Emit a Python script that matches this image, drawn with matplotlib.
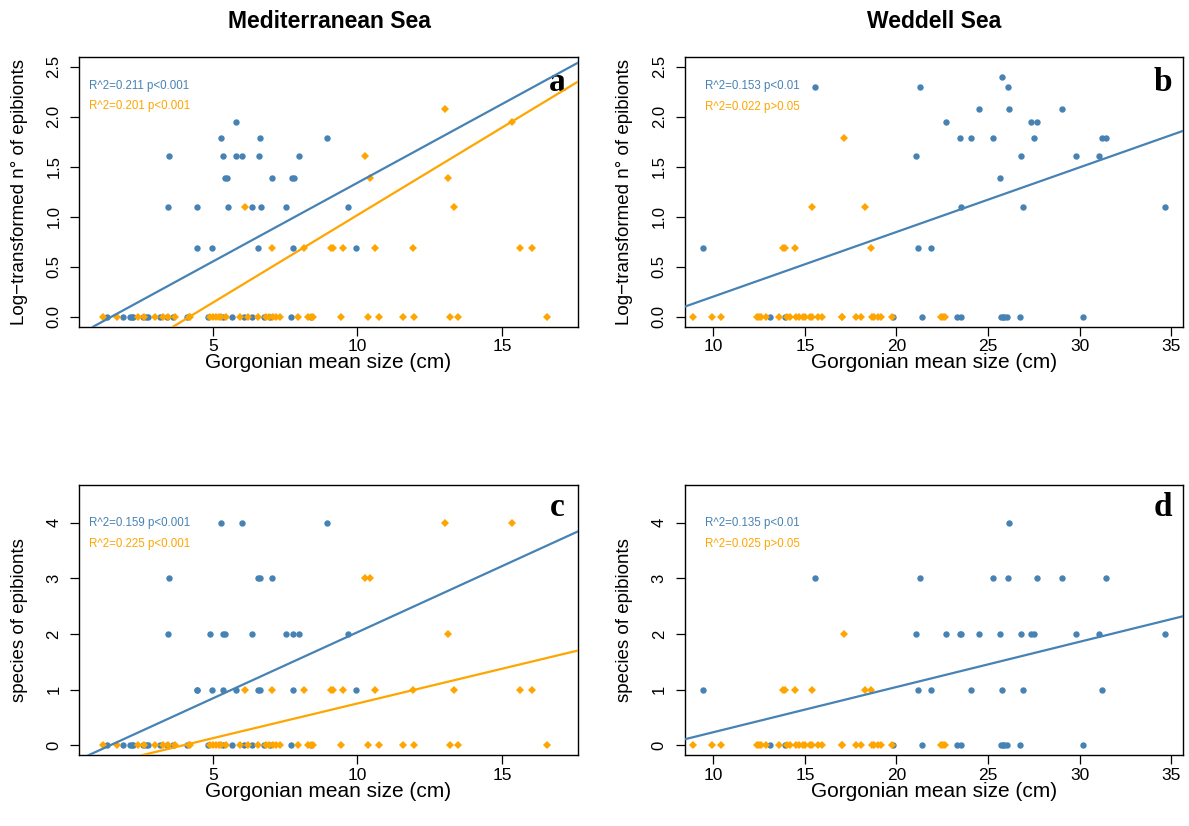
import matplotlib
matplotlib.use("Agg")
import matplotlib.pyplot as plt

BLUE = "#4682B4"
ORANGE = "#FFA500"

# Mediterranean Sea - colony sizes (cm) with no epibionts
med_zero_blue = [1.36, 1.89, 2.14, 2.20, 2.26, 2.58, 2.69, 2.75, 3.17, 3.42, 3.63,
                 4.11, 4.85, 5.36, 5.66, 6.07, 6.37, 6.76, 6.99, 7.70, 8.38]
med_zero_orange = [1.22, 1.70, 2.41, 2.62, 3.01, 3.27, 3.47, 3.70, 4.18, 4.23, 4.92,
                   5.01, 5.10, 5.20, 5.29, 5.47, 5.93, 6.23, 6.57, 6.85, 6.94, 7.08,
                   7.17, 7.31, 7.93, 8.30, 8.41, 8.48, 9.44, 10.36, 10.76, 11.56,
                   11.97, 13.20, 13.46, 16.56]

# log-transformed number of epibionts -> colony sizes
med_log_blue = {1.95: [5.82], 1.79: [5.29, 6.64, 8.94],
                1.61: [3.49, 5.36, 5.82, 6.02, 6.60, 7.98],
                1.39: [5.42, 5.49, 7.05, 7.75, 7.82],
                1.10: [3.45, 4.44, 5.52, 6.37, 6.67, 7.54, 9.67],
                0.69: [4.46, 4.97, 6.58, 7.79, 9.95]}
med_log_orange = {2.08: [13.02], 1.95: [15.33], 1.61: [10.27],
                  1.39: [10.43, 13.13], 1.10: [6.11, 13.35],
                  0.69: [7.05, 8.17, 9.10, 9.16, 9.49, 10.59, 11.91, 15.60, 16.02]}

# number of epibiont species -> colony sizes
med_sp_blue = {4: [5.29, 6.02, 8.94], 3: [3.49, 6.58, 6.62, 7.05],
               2: [3.45, 4.89, 5.36, 5.43, 6.37, 7.54, 7.79, 7.98, 9.67],
               1: [4.44, 4.46, 4.97, 5.36, 5.79, 6.58, 6.62, 7.79, 9.95]}
med_sp_orange = {4: [13.02, 15.33], 3: [10.27, 10.43], 2: [13.13],
                 1: [6.11, 7.05, 8.17, 9.10, 9.16, 9.49, 10.59, 11.91, 13.35,
                     15.60, 16.02]}

# Weddell Sea
wed_zero_blue = [13.10, 13.90, 19.80, 21.40, 23.28, 23.55, 25.70, 25.80, 25.90,
                 26.05, 26.76, 30.20]
wed_zero_orange = [8.88, 9.93, 10.40, 12.37, 12.50, 12.60, 12.88, 13.60, 14.00,
                   14.20, 14.50, 14.70, 14.90, 15.00, 15.30, 15.40, 15.74, 15.95,
                   17.00, 17.05, 17.77, 18.04, 18.66, 18.80, 19.00, 19.15, 19.73,
                   22.42, 22.55, 22.65]

wed_log_blue = {2.40: [25.78], 2.30: [15.55, 21.27, 26.07],
                2.08: [24.51, 26.15, 29.04], 1.95: [22.68, 27.37, 27.67],
                1.79: [23.49, 24.07, 25.29, 27.51, 31.24, 31.46],
                1.61: [21.09, 26.82, 29.82, 31.08], 1.39: [25.64],
                1.10: [23.55, 26.91, 34.64], 0.69: [9.42, 21.18, 21.89]}
wed_log_orange = {1.79: [17.15], 1.10: [15.38, 18.28],
                  0.69: [13.83, 13.90, 14.47, 18.59]}

wed_sp_blue = {4: [26.15], 3: [15.55, 21.27, 25.29, 26.07, 27.66, 29.04, 31.46],
               2: [21.09, 22.68, 23.49, 23.55, 24.51, 25.64, 26.82, 27.37, 27.51,
                   29.82, 31.08, 34.64],
               1: [9.42, 21.18, 21.89, 24.07, 25.78, 26.91, 31.24]}
wed_sp_orange = {2: [17.15], 1: [13.83, 13.90, 14.47, 15.38, 18.28, 18.59]}

# regression lines (intercept, slope)
fit_a = {BLUE: (-0.237, 0.1576), ORANGE: (-0.736, 0.1752)}
fit_b = {BLUE: (-0.445, 0.0646)}
fit_c = {BLUE: (-0.347, 0.238), ORANGE: (-0.498, 0.125)}
fit_d = {BLUE: (-0.578, 0.0813)}

stats_a = ["R^2=0.211 p<0.001", "R^2=0.201 p<0.001"]
stats_b = ["R^2=0.153 p<0.01", "R^2=0.022 p>0.05"]
stats_c = ["R^2=0.159 p<0.001", "R^2=0.225 p<0.001"]
stats_d = ["R^2=0.135 p<0.01", "R^2=0.025 p>0.05"]

log_ticks = [0.0, 0.5, 1.0, 1.5, 2.0, 2.5]
sp_ticks = [0, 1, 2, 3, 4]
med_xticks = [5, 10, 15]
wed_xticks = [10, 15, 20, 25, 30, 35]

SANS = "Liberation Sans"


def expand(levels, zero_x):
    xs = list(zero_x)
    ys = [0.0] * len(zero_x)
    for level, sizes in levels.items():
        xs += sizes
        ys += [level] * len(sizes)
    return xs, ys


def panel(ax, blue, orange, zb, zo, fits, stats, letter, xlim, ylim, xticks,
          yticks, yfmt, ylabel, text_y):
    bx, by = expand(blue, zb)
    ox, oy = expand(orange, zo)
    ax.plot(bx, by, "o", color=BLUE, ms=4.6, mew=0, zorder=3)
    ax.plot(ox, oy, "D", color=ORANGE, ms=4.2, mew=0, zorder=3)
    for col, (b0, b1) in fits.items():
        ax.axline((0, b0), slope=b1, color=col, lw=1.6, zorder=4)
    ax.set_xlim(*xlim)
    ax.set_ylim(*ylim)
    ax.set_xticks(xticks)
    ax.set_xticklabels([str(t) for t in xticks], fontsize=12.5, family=SANS)
    ax.set_yticks(yticks)
    ax.set_yticklabels([yfmt.format(t) for t in yticks], fontsize=12,
                       family=SANS, rotation=90, va="center")
    ax.tick_params(direction="out", length=6.5, width=0.9)
    ax.tick_params(axis="x", pad=2.5)
    ax.tick_params(axis="y", pad=6.5)
    for s in ax.spines.values():
        s.set_linewidth(1.0)
    ax.set_xlabel("Gorgonian mean size (cm)", fontsize=15, family=SANS, va="center")
    ax.xaxis.set_label_coords(0.5, -0.133)
    ax.set_ylabel(ylabel, fontsize=13.5, family=SANS, va="center")
    ax.yaxis.set_label_coords(-0.12, 0.5)
    ax.text(text_y[0], text_y[1], stats[0], color=BLUE, fontsize=8.3,
            family=SANS, transform=ax.transAxes, va="center")
    ax.text(text_y[0], text_y[2], stats[1], color=ORANGE, fontsize=8.3,
            family=SANS, transform=ax.transAxes, va="center")
    ax.text(0.958, text_y[3], letter, fontsize=24, fontweight="bold",
            family="Liberation Serif", transform=ax.transAxes, ha="center",
            va="baseline")


fig = plt.figure(figsize=(11.89, 8.26), dpi=100)
ax_a = fig.add_axes([0.0667, 0.6045, 0.4192, 0.3269])
ax_b = fig.add_axes([0.5759, 0.6045, 0.4194, 0.3269])
ax_c = fig.add_axes([0.0667, 0.0856, 0.4192, 0.3272])
ax_d = fig.add_axes([0.5759, 0.0856, 0.4194, 0.3272])

log_lab = "Log\u2212transformed n\u00b0 of epibionts"
sp_lab = "species of epibionts"

panel(ax_a, med_log_blue, med_log_orange, med_zero_blue, med_zero_orange, fit_a,
      stats_a, "a", (0.39, 17.61), (-0.1, 2.6), med_xticks, log_ticks, "{:.1f}",
      log_lab, (0.02, 0.891, 0.817, 0.874))
panel(ax_b, wed_log_blue, wed_log_orange, wed_zero_blue, wed_zero_orange, fit_b,
      stats_b, "b", (8.44, 35.67), (-0.1, 2.6), wed_xticks, log_ticks, "{:.1f}",
      log_lab, (0.04, 0.89, 0.815, 0.874))
panel(ax_c, med_sp_blue, med_sp_orange, med_zero_blue, med_zero_orange, fit_c,
      stats_c, "c", (0.39, 17.61), (-0.18, 4.68), med_xticks, sp_ticks, "{:d}",
      sp_lab, (0.02, 0.86, 0.782, 0.885))
panel(ax_d, wed_sp_blue, wed_sp_orange, wed_zero_blue, wed_zero_orange, fit_d,
      stats_d, "d", (8.44, 35.67), (-0.18, 4.68), wed_xticks, sp_ticks, "{:d}",
      sp_lab, (0.04, 0.86, 0.782, 0.885))

fig.text(329 / 1189, 1 - 22 / 826, "Mediterranean Sea", fontsize=16.5,
         fontweight="bold", family=SANS, ha="center", va="center")
fig.text(934 / 1189, 1 - 22 / 826, "Weddell Sea", fontsize=16.5,
         fontweight="bold", family=SANS, ha="center", va="center")

fig.savefig("out.png", dpi=100)
